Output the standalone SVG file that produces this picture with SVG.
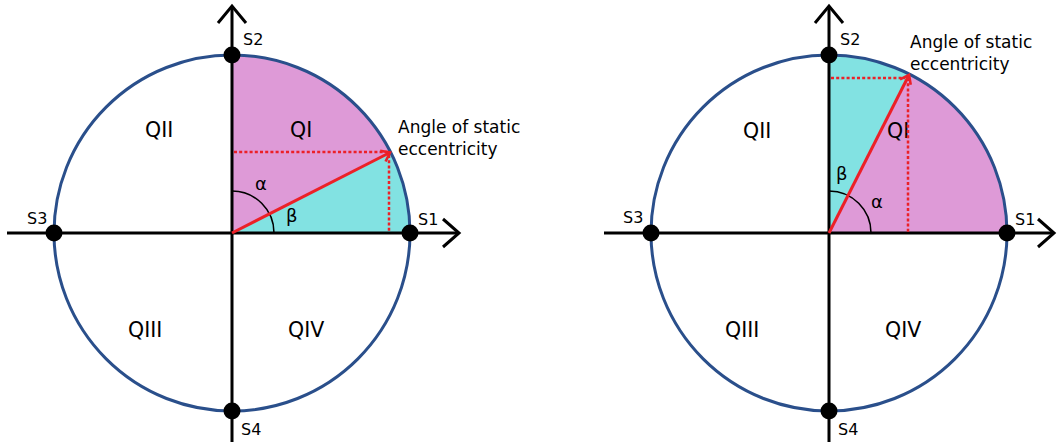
<svg xmlns="http://www.w3.org/2000/svg" width="1057" height="442" viewBox="0 0 1057 442">
<style>
.mag{fill:#de9ad7}
.cyan{fill:#82e2e2}
.circ{fill:none;stroke:#2a4f8b;stroke-width:3}
.axis{fill:none;stroke:#000;stroke-width:3}
.head{fill:none;stroke:#000;stroke-width:3;stroke-linejoin:miter}
.arc{fill:none;stroke:#000;stroke-width:1.6}
.vec{fill:none;stroke:#ec2027;stroke-width:3;marker-end:url(#rh)}
.dot{fill:none;stroke:#ec2027;stroke-width:2.5;stroke-dasharray:3 2.2}
.pt{fill:#000}
text{font-family:"DejaVu Sans","Liberation Sans",sans-serif;fill:#000}
.q{font-size:20.5px}
.s{font-size:16px}
.lab{font-size:17px}
.g{font-size:18px}
</style>
<defs>
<marker id="rh" markerUnits="userSpaceOnUse" markerWidth="20" markerHeight="20" refX="12" refY="8" orient="auto" viewBox="0 0 20 16">
<path d="M4,2 L12,8 L4,14" fill="none" stroke="#ec2027" stroke-width="2.6"/>
</marker>
</defs>

<g id="left">
<path class="cyan" d="M232,233 L410,233 A178,178 0 0 0 390.4,151.9 Z"/>
<path class="mag" d="M232,233 L390.4,151.9 A178,178 0 0 0 232,55 Z"/>
<circle class="circ" cx="232" cy="233" r="178"/>
<g id="left-axes">
<line class="axis" x1="7" y1="233" x2="459" y2="233"/>
<line class="axis" x1="232" y1="442" x2="232" y2="6"/>
<polyline class="head" points="218,23 232,6 246,23"/>
<polyline class="head" points="443,219 459,233 443,247"/>
</g>
<path class="arc" d="M232,191 A42,42 0 0 1 274,233"/>
<line class="dot" x1="234" y1="152" x2="388" y2="152"/>
<line class="dot" x1="389" y1="155" x2="389" y2="232"/>
<line class="vec" x1="232" y1="233" x2="390" y2="152.5"/>
<g id="left-points">
<circle class="pt" cx="232" cy="55" r="8.5"/>
<circle class="pt" cx="410" cy="233" r="8.5"/>
<circle class="pt" cx="54" cy="233" r="8.5"/>
<circle class="pt" cx="232" cy="411" r="8.5"/>
</g>
<text class="s" x="243" y="45">S2</text>
<text class="s" x="418" y="225">S1</text>
<text class="s" x="27" y="224">S3</text>
<text class="s" x="241" y="435">S4</text>
<text class="q" x="290" y="137">QI</text>
<text class="q" x="145" y="137">QII</text>
<text class="q" x="128" y="337">QIII</text>
<text class="q" x="288" y="337">QIV</text>
<text class="g" x="255" y="190">α</text>
<text class="g" x="286" y="222">β</text>
<text class="lab" x="398" y="133">Angle of static</text>
<text class="lab" x="398" y="155">eccentricity</text>
</g>

<g id="right">
<path class="mag" d="M829,233 L1007,233 A178,178 0 0 0 909.8,74.4 Z"/>
<path class="cyan" d="M829,233 L909.8,74.4 A178,178 0 0 0 829,55 Z"/>
<circle class="circ" cx="829" cy="233" r="178"/>
<g id="right-axes">
<line class="axis" x1="604" y1="233" x2="1054" y2="233"/>
<line class="axis" x1="829" y1="442" x2="829" y2="6"/>
<polyline class="head" points="815,23 829,6 843,23"/>
<polyline class="head" points="1038,219 1054,233 1038,247"/>
</g>
<path class="arc" d="M829,191 A42,42 0 0 1 871,233"/>
<text class="q" x="887" y="138">QI</text>
<line class="dot" x1="831" y1="78" x2="905" y2="78"/>
<line class="dot" x1="908" y1="78" x2="908" y2="232"/>
<line class="vec" x1="829" y1="233" x2="909" y2="75"/>
<g id="right-points">
<circle class="pt" cx="829" cy="55" r="8.5"/>
<circle class="pt" cx="1007" cy="233" r="8.5"/>
<circle class="pt" cx="651" cy="233" r="8.5"/>
<circle class="pt" cx="829" cy="411" r="8.5"/>
</g>
<text class="s" x="840" y="45">S2</text>
<text class="s" x="1015" y="225">S1</text>
<text class="s" x="623" y="223">S3</text>
<text class="s" x="838" y="435">S4</text>
<text class="q" x="743" y="138">QII</text>
<text class="q" x="725" y="337">QIII</text>
<text class="q" x="885" y="337">QIV</text>
<text class="g" x="836" y="180">β</text>
<text class="g" x="871" y="208">α</text>
<text class="lab" x="910" y="48">Angle of static</text>
<text class="lab" x="910" y="70">eccentricity</text>
</g>
</svg>
